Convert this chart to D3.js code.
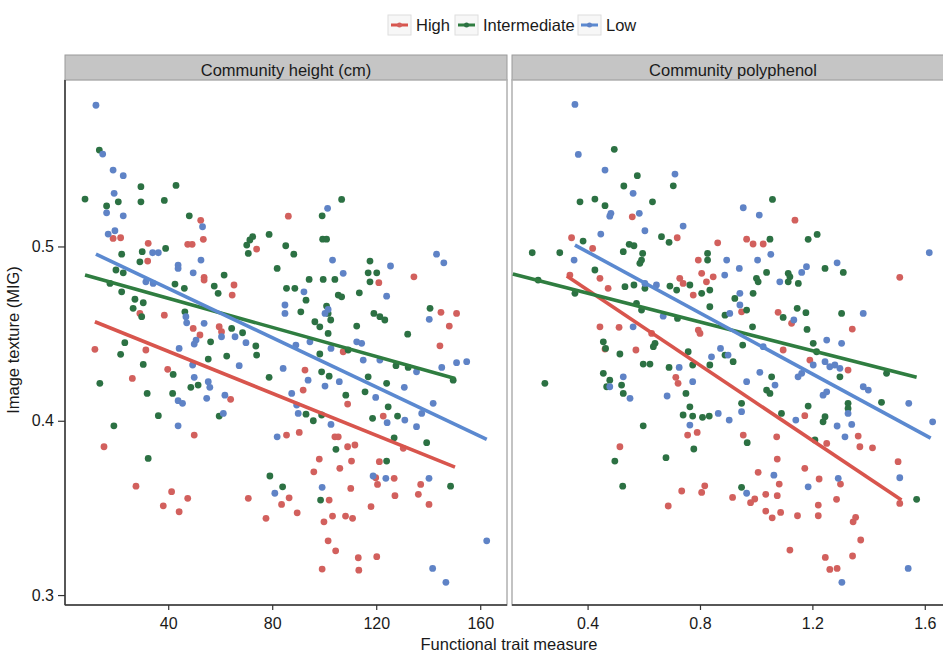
<!DOCTYPE html>
<html>
<head>
<meta charset="utf-8">
<title>Image texture vs functional traits</title>
<script src="https://cdn.jsdelivr.net/npm/d3@7"></script>
<style>
    body { margin: 0; background: #fff; }
    text { font-family: "Liberation Sans", Arial, sans-serif; fill: #1a1a1a; }
</style>
</head>
<body>
<div id="chart"></div>
<script>
// groups + colours
var groups = ["High", "Intermediate", "Low"];
var dotColors = ["#d2605d", "#2c7143", "#5f83c6"];
var lineColors = ["#d8554d", "#2f7d40", "#5b89d0"];

var stripLabels = ["Community height (cm)", "Community polyphenol"];
var heightTicks = [40, 80, 120, 160];
var polyTicks = [0.4, 0.8, 1.2, 1.6];
var yTicks = [0.3, 0.4, 0.5];

// panel 1 : community height
var heightHigh = [[52.5,0.515],[18.8,0.5046],[21.7,0.505],[53.5,0.5041],[32.3,0.5018],[47.5,0.5012],[49.2,0.5012],[32.1,0.4916],[53.8,0.4823],[74,0.4985],[86.2,0.5174],
    [134.5,0.4826],[53.8,0.4807],[65.3,0.4779],[64.6,0.4721],[29.1,0.4616],[38.5,0.4606],[49.6,0.453],[59.6,0.454],[60.5,0.4511],[52.2,0.4492],[11.8,0.441],[31.4,0.4406],
    [39.8,0.4295],[26.2,0.4243],[64,0.4123],[50,0.3918],[15.3,0.3851],[85.5,0.3918],[27.6,0.3625],[41.3,0.3593],[47.5,0.3555],[70.8,0.3555],
    [38.1,0.3512],[44.2,0.3478],[77.6,0.344],[83.6,0.352],[86.5,0.3558],[89.6,0.3472],[101.9,0.3545],[99.9,0.342],[103.2,0.3453],[108.2,0.3453],[110.9,0.344],
    [101.5,0.3311],[104.4,0.3254],[99.2,0.3149],[113.1,0.3214],[113.3,0.3143],[120.2,0.322],[118,0.3507],[110.2,0.3612],[106,0.3727],[98.1,0.378],[96,0.3707],
    [110.5,0.3769],[109,0.3851],[111.8,0.3861],[104.1,0.3908],[105.4,0.3908],[119.8,0.3673],[120.5,0.3635],[121.2,0.3765],[126.9,0.367],[127.2,0.357],
    [136.2,0.3578],[137.1,0.3635],[140.3,0.352],[130.4,0.3842],[122.7,0.4027],[109,0.4096],[90.4,0.3933],
    [121,0.4792],[144.9,0.4622],[150.9,0.4616],[148.1,0.4543],[144.5,0.443],[107.3,0.4396],[92.6,0.4291],[91.9,0.4176]];
var heightIntermediate = [[13.5,0.5553],[29.5,0.5343],[43,0.535],[8,0.5272],[20.8,0.5256],[29.5,0.5256],[38.5,0.5264],[16.3,0.5232],[48.1,0.5176],[39,0.4989],
    [22.1,0.4956],[30,0.497],[29.1,0.4912],[19.9,0.4865],[22.7,0.4849],[61.5,0.4836],[70.2,0.5008],[71.4,0.5037],[72.5,0.5056],[70.8,0.496],[78.8,0.5069],[85.2,0.5004],[81.9,0.4874],
    [106.7,0.527],[99.2,0.5176],[99.4,0.5042],[100.9,0.5042],[88.3,0.4956],[117.6,0.4916],[116.9,0.4849],[120.2,0.4849],[94.2,0.4811],[99.6,0.4811],[104.1,0.4811],
    [17.6,0.4788],[22.1,0.474],[42.6,0.4784],[46.2,0.476],[57.7,0.4773],[59.2,0.4731],[85.5,0.476],[27.2,0.4697],[30.4,0.4677],[26.5,0.4645],[29.8,0.4597],[46.4,0.4625],
    [64.4,0.453],[68.6,0.4505],[73.7,0.4429],[74,0.4377],[56.3,0.4453],[23.3,0.4448],[21.7,0.4381],[55.4,0.4354],[62.5,0.4371],[30.4,0.4323],[41.9,0.4266],[13.7,0.4215],
    [78.8,0.4249],[48.7,0.4192],[51.5,0.4205],[31.9,0.4157],[41.7,0.4157],[36.2,0.4029],[59.6,0.4027],[19.1,0.3971],[32.3,0.3784],[79.1,0.3683],[84,0.3621],
    [98.6,0.3545],[104.5,0.3836],[124,0.3769],[148.6,0.3625],[126.9,0.3902],[139.4,0.3874],[118.6,0.4014],[124.6,0.408],[128.2,0.4027],[93,0.4038],[95.8,0.4],[99,0.4033],
    [88.7,0.476],[117.6,0.4797],[93,0.4692],[91,0.4625],[105.4,0.4721],[106.7,0.4711],[113.5,0.4734],[100.9,0.4658],[101.5,0.4616],[102.5,0.4578],[96.4,0.4568],[98.3,0.4539],
    [112.5,0.4543],[119.1,0.4616],[121.4,0.4597],[123.3,0.4578],[140.7,0.4645],[132.1,0.4497],[101.5,0.4501],[109.2,0.4406],[98.3,0.4383],[132.3,0.4306],[127.6,0.4316],
    [149.6,0.4233],[99,0.4281],[101.9,0.4256],[116.9,0.4252],[124,0.4215],[115.7,0.4166],[108.3,0.4147]];
var heightLow = [[12.2,0.581],[14.8,0.553],[18.8,0.5438],[22.7,0.5406],[19.2,0.5305],[16.3,0.5193],[22.7,0.5176],[53.2,0.5113],[16.9,0.5071],[19.5,0.509],[34,0.4964],
    [36.2,0.4964],[43.8,0.4893],[43.8,0.4874],[52.6,0.4922],[49.6,0.4849],[101.3,0.5219],[103.2,0.4922],[125.5,0.4888],[143.2,0.4956],[146,0.4906],[107.3,0.4846],
    [31.4,0.4797],[34.2,0.4788],[46.8,0.4597],[47.1,0.4562],[53.8,0.4559],[60.5,0.4482],[65.7,0.4482],[69.9,0.4448],[50.7,0.4463],[50,0.444],[44.2,0.4415],[49.4,0.432],
    [67.3,0.4316],[50,0.4249],[55.4,0.4224],[56,0.4192],[84.2,0.43],[43.8,0.4115],[45.5,0.41],[54.8,0.4129],[61.8,0.4147],[61.2,0.4042],[43.8,0.3971],[81.9,0.3908],[81,0.3584],
    [99.2,0.3618],[102.6,0.3979],[118.8,0.3683],[123.7,0.367],[140.3,0.367],[162.5,0.3311],[141.7,0.3153],[146.8,0.3073],[135.5,0.3966],[124.2,0.3989],[131,0.4004],
    [137.5,0.4042],[141.9,0.41],[89.4,0.409],[90,0.4042],
    [92.2,0.474],[84.9,0.4664],[84.9,0.4616],[124,0.4715],[100.3,0.4616],[101.5,0.4639],[140.4,0.4582],[112.5,0.4453],[114.4,0.4444],[102.6,0.4415],[94.5,0.4453],
    [89.1,0.4434],[115,0.4348],[121.4,0.4348],[135.5,0.4281],[145.2,0.4306],[150.9,0.4333],[154.8,0.4339],[93.8,0.4233],[100.3,0.4199],[105.8,0.4224],[87.5,0.4157],
    [119.8,0.4134],[130.8,0.4192]];

// panel 2 : community polyphenol
var polyHigh = [[0.559,0.517],[0.719,0.505],[0.343,0.505],[0.418,0.4989],[0.863,0.5021],[0.794,0.4922],[0.806,0.4846],[0.847,0.4826],[0.337,0.4836],[0.444,0.4817],[0.728,0.4817],
    [1.138,0.5151],[0.966,0.5042],[0.989,0.5014],[1.025,0.5014],[1.511,0.4823],
    [0.473,0.476],[0.776,0.4721],[0.74,0.4788],[0.823,0.4797],[0.444,0.4539],[0.512,0.4536],[0.628,0.4501],[0.794,0.452],[0.8,0.4501],[0.462,0.4411],[0.572,0.4406],
    [0.714,0.4249],[0.722,0.4215],[0.756,0.3918],[0.79,0.3933],[0.515,0.3851],[0.735,0.3597],[0.806,0.3589],[0.817,0.3627],[0.687,0.3511],
    [0.948,0.4625],[1.078,0.4622],[1.126,0.4559],[1.342,0.4526],[1.096,0.4406],[1.191,0.4348],[1.327,0.4291],[1.173,0.4029],[0.954,0.3918],[1.073,0.3908],[1.363,0.3912],
    [1.369,0.3851],[1.414,0.3845],[1.251,0.387],[1.075,0.378],[1.505,0.3765],[1.007,0.3704],[1.173,0.3727],[1.082,0.3637],[1.224,0.3666],[1.3,0.3637],[0.916,0.356],
    [0.98,0.353],[0.995,0.3551],[1.034,0.3578],[1.075,0.357],[1.034,0.3482],[1.057,0.3443],[1.087,0.3474],[1.147,0.3455],[1.221,0.3516],[1.221,0.3455],[1.286,0.3549],
    [1.345,0.342],[1.354,0.3446],[1.372,0.3316],[1.12,0.3258],[1.246,0.3216],[1.262,0.3147],[1.288,0.3153],[1.343,0.3224],[1.511,0.3526]];
var polyIntermediate = [[0.495,0.5557],[0.577,0.5406],[0.705,0.5348],[0.529,0.5347],[0.373,0.5256],[0.426,0.5272],[0.462,0.5234],[0.631,0.5256],[0.663,0.5056],[0.69,0.5024],
    [0.384,0.5031],[0.548,0.5012],[0.565,0.5004],[0.203,0.4964],[0.301,0.4964],[0.527,0.497],[0.596,0.496],[0.592,0.4922],[0.586,0.4903],[0.827,0.496],[0.827,0.4922],[0.426,0.4865],
    [1.058,0.527],[1.049,0.5042],[1.185,0.5041],[1.217,0.5069],[1.037,0.4851],[1.114,0.4846],[1.12,0.4826],[1.245,0.4874],[1.31,0.4851],[1.001,0.4817],
    [0.224,0.4807],[0.355,0.4731],[0.533,0.4769],[0.565,0.4779],[0.604,0.476],[0.693,0.4773],[0.717,0.475],[0.764,0.4779],[0.806,0.4731],[0.835,0.475],[0.574,0.4674],
    [0.592,0.4635],[0.72,0.4587],[0.835,0.4654],[0.889,0.4606],[0.456,0.4453],[0.464,0.4415],[0.64,0.4444],[0.634,0.4425],[0.515,0.4383],[0.758,0.4396],[0.598,0.4325],
    [0.622,0.4325],[0.69,0.4306],[0.774,0.432],[0.835,0.432],[0.248,0.4215],[0.456,0.4272],[0.479,0.4233],[0.468,0.4195],[0.521,0.4205],[0.527,0.4157],[0.75,0.4157],
    [0.764,0.408],[0.74,0.4033],[0.774,0.4027],[0.809,0.402],[0.833,0.4027],[0.598,0.3971],[0.778,0.3838],[0.497,0.3769],[0.679,0.3788],[0.525,0.3625],
    [1.007,0.4797],[1.114,0.4797],[1.15,0.4788],[0.924,0.4702],[0.989,0.4731],[0.966,0.4635],[1.096,0.4593],[1.146,0.4645],[1.177,0.462],[1.181,0.4524],[1.304,0.4616],
    [0.987,0.4539],[0.952,0.4434],[0.889,0.4377],[0.918,0.4339],[1.203,0.4444],[1.215,0.4396],[1.298,0.4252],[1.464,0.4272],[1.055,0.4252],[1.049,0.4157],[1.037,0.4176],
    [1.327,0.41],[1.327,0.4071],[1.446,0.4106],[1.185,0.4084],[1.245,0.4023],[1.238,0.3994],[1.09,0.4042],[0.948,0.41],[0.968,0.3874],[1.209,0.389],[0.948,0.3618],[1.571,0.3549]];
var polyLow = [[0.355,0.5815],[0.367,0.5528],[0.462,0.5438],[0.711,0.5415],[0.562,0.5305],[0.483,0.519],[0.479,0.5174],[0.584,0.519],[0.74,0.5117],[0.447,0.5071],[0.604,0.509],
    [0.895,0.4922],[0.352,0.4922],[0.888,0.4836],[0.954,0.5222],[1.011,0.518],[1.052,0.4955],[0.94,0.4874],[1.005,0.4922],[1.616,0.4964],[1.162,0.4851],[1.179,0.4884],[1.288,0.4906],
    [0.604,0.4788],[0.645,0.4779],[0.669,0.46],[0.562,0.4539],[0.841,0.4367],[0.873,0.4415],[0.9,0.4377],[0.726,0.4306],[0.527,0.4252],[0.479,0.4195],[0.551,0.4129],
    [0.774,0.4224],[0.683,0.4142],[0.865,0.4042],[0.904,0.4004],[0.764,0.3975],
    [1.084,0.4797],[0.942,0.4731],[0.942,0.4664],[0.906,0.4616],[1.134,0.4578],[1.381,0.4616],[1.025,0.4425],[1.251,0.4463],[1.304,0.4444],[1.203,0.432],[1.245,0.4339],
    [1.262,0.431],[1.28,0.432],[1.298,0.4301],[1.013,0.4278],[0.966,0.4224],[1.067,0.4205],[1.149,0.4252],[1.162,0.4272],[1.238,0.4147],[1.251,0.4166],[1.381,0.4195],
    [1.399,0.4176],[1.543,0.41],[1.628,0.3994],[1.141,0.4004],[1.327,0.4042],[1.34,0.3979],[1.288,0.397],[1.316,0.3908],[0.948,0.4052],[1.511,0.3673],[1.063,0.3688],
    [1.185,0.3621],[1.292,0.367],[0.966,0.3584],[1.305,0.3073],[1.541,0.3153]];

// fitted lines (start, end) per group
var fitHeight = [[[11.8,0.4568],[150.3,0.3734]], [[8,0.4836],[150.3,0.4243]], [[12.2,0.4956],[162.5,0.3893]]];
var fitPoly = [[[0.326,0.483],[1.517,0.3545]], [[0.134,0.4842],[1.571,0.4249]], [[0.355,0.5008],[1.621,0.39]]];

var W = 943, H = 654;
var stripTop = 55, plotTop = 80, plotBottom = 605;

var panels = [
    {label: stripLabels[0], x0: 65, x1: 507, domain: [0.3, 170.3], ticks: heightTicks, fmt: d3.format("d"),
     pts: [heightHigh, heightIntermediate, heightLow], fits: fitHeight},
    {label: stripLabels[1], x0: 512, x1: 954, domain: [0.131, 1.704], ticks: polyTicks, fmt: d3.format(".1f"),
     pts: [polyHigh, polyIntermediate, polyLow], fits: fitPoly}
];

var y = d3.scaleLinear().domain([0.2943, 0.5955]).range([plotBottom, plotTop]);

var svg = d3.select("#chart").append("svg")
    .attr("width", W).attr("height", H);

panels.forEach(function(p, pi) {
    var x = d3.scaleLinear().domain(p.domain).range([p.x0, p.x1]);
    var g = svg.append("g");

    // strip
    g.append("rect")
        .attr("x", p.x0).attr("y", stripTop)
        .attr("width", p.x1 - p.x0).attr("height", plotTop - stripTop)
        .attr("fill", "#c5c5c5").attr("stroke", "#9a9a9a").attr("stroke-width", 1);
    g.append("text")
        .attr("x", (p.x0 + p.x1) / 2 - (pi ? 0 : 0)).attr("y", 75.5)
        .attr("text-anchor", "middle").style("font-size", "16.5px")
        .text(p.label);

    // panel box
    g.append("rect")
        .attr("x", p.x0).attr("y", plotTop)
        .attr("width", p.x1 - p.x0).attr("height", plotBottom - plotTop)
        .attr("fill", "#fff").attr("stroke", "#b0b0b0").attr("stroke-width", 1.5);

    // points
    p.pts.forEach(function(arr, gi) {
        g.append("g").selectAll("circle").data(arr).enter()
            .append("circle")
            .attr("cx", function(d) { return x(d[0]); })
            .attr("cy", function(d) { return y(d[1]); })
            .attr("r", 3.4)
            .attr("fill", dotColors[gi]);
    });

    // fit lines
    var line = d3.line().x(function(d) { return x(d[0]); }).y(function(d) { return y(d[1]); });
    p.fits.forEach(function(seg, gi) {
        g.append("path").attr("d", line(seg))
            .attr("fill", "none").attr("stroke", lineColors[gi])
            .attr("stroke-width", 3.6).attr("stroke-linecap", "butt");
    });

    // x axis
    var ax = g.append("g").attr("transform", "translate(0," + plotBottom + ")")
        .call(d3.axisBottom(x).tickValues(p.ticks).tickFormat(p.fmt).tickSize(5).tickPadding(8));
    ax.select(".domain").remove();
    ax.selectAll(".tick line").attr("stroke", "#333").attr("stroke-width", 1.2);
    ax.selectAll(".tick text").style("font-size", "16px").attr("fill", "#1a1a1a");
    g.append("line")
        .attr("x1", p.x0).attr("x2", p.x1).attr("y1", plotBottom).attr("y2", plotBottom)
        .attr("stroke", "#333").attr("stroke-width", 1.5);

    if (pi === 0) {
        var ay = g.append("g").attr("transform", "translate(" + p.x0 + ",0)")
            .call(d3.axisLeft(y).tickValues(yTicks).tickFormat(d3.format(".1f")).tickSize(7).tickPadding(4));
        ay.select(".domain").remove();
        ay.selectAll(".tick line").attr("stroke", "#333").attr("stroke-width", 1.2);
        ay.selectAll(".tick text").style("font-size", "16px").attr("fill", "#1a1a1a");
        g.append("line")
            .attr("x1", p.x0).attr("x2", p.x0).attr("y1", plotTop).attr("y2", plotBottom)
            .attr("stroke", "#333").attr("stroke-width", 1.5);
    }
});

// axis titles
svg.append("text").attr("x", 509).attr("y", 650)
    .attr("text-anchor", "middle").style("font-size", "16.5px")
    .text("Functional trait measure");
svg.append("text")
    .attr("transform", "translate(19,340) rotate(-90)")
    .attr("text-anchor", "middle").style("font-size", "16.5px")
    .text("Image texture (MIG)");

// legend
var legendX = [388, 455, 578];
var leg = svg.append("g");
groups.forEach(function(name, i) {
    var lg = leg.append("g").attr("transform", "translate(" + legendX[i] + ",15)");
    lg.append("rect").attr("width", 23).attr("height", 20)
        .attr("fill", "#f7f7f7").attr("stroke", "#dedede");
    lg.append("line").attr("x1", 3).attr("x2", 20).attr("y1", 10).attr("y2", 10)
        .attr("stroke", lineColors[i]).attr("stroke-width", 3);
    lg.append("circle").attr("cx", 11.5).attr("cy", 10).attr("r", 2.5).attr("fill", dotColors[i]);
    lg.append("text").attr("x", 28).attr("y", 16).style("font-size", "16.5px").text(name);
});
</script>
</body>
</html>
